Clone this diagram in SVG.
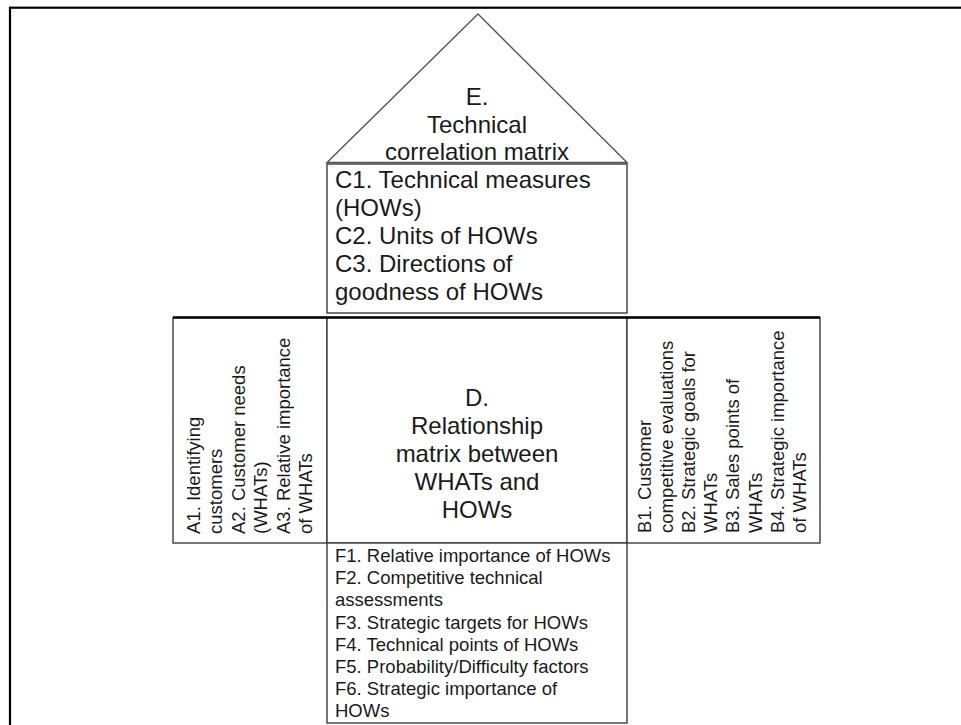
<svg xmlns="http://www.w3.org/2000/svg" width="961" height="725" viewBox="0 0 961 725">
  <style>
    .frame { fill: none; stroke: #000; stroke-width: 2.2; }
    .box { fill: #fff; stroke: #3c3c3c; stroke-width: 1.4; }
    .roof { fill: #fff; stroke: #555; stroke-width: 1.4; }
    .bar { stroke: #000; stroke-width: 2.6; }
    .big { font-family: "Liberation Sans", Arial, sans-serif; font-size: 24px; fill: #1a1a1a; }
    .small { font-family: "Liberation Sans", Arial, sans-serif; font-size: 18.5px; fill: #1a1a1a; }
    .mid { text-anchor: middle; }
  </style>

  <rect width="961" height="725" fill="#fff"/>

  <!-- page frame -->
  <g id="frame">
    <rect class="frame" x="10" y="7.7" width="1000" height="800"/>
  </g>

  <!-- E: roof -->
  <g id="node-E">
    <polygon class="roof" points="327,162.5 478,14 627,162.5"/>
    <text class="big mid" x="477" y="105">E.</text>
    <text class="big mid" x="477" y="133">Technical</text>
    <text class="big mid" x="477" y="160">correlation matrix</text>
  </g>

  <!-- C: technical measures -->
  <g id="node-C">
    <rect class="box" x="327" y="164" width="300" height="149"/>
    <text class="big" x="335" y="188">C1. Technical measures</text>
    <text class="big" x="335" y="216">(HOWs)</text>
    <text class="big" x="335" y="244">C2. Units of HOWs</text>
    <text class="big" x="335" y="272">C3. Directions of</text>
    <text class="big" x="335" y="300">goodness of HOWs</text>
  </g>

  <!-- A: customer side -->
  <g id="node-A">
    <rect class="box" x="173" y="317.5" width="154" height="225.5"/>
    <text class="small" transform="translate(200,534) rotate(-90)">A1. Identifying</text>
    <text class="small" transform="translate(222.4,534) rotate(-90)">customers</text>
    <text class="small" transform="translate(244.8,534) rotate(-90)">A2. Customer needs</text>
    <text class="small" transform="translate(267.2,534) rotate(-90)">(WHATs)</text>
    <text class="small" transform="translate(289.6,534) rotate(-90)">A3. Relative importance</text>
    <text class="small" transform="translate(312,534) rotate(-90)">of WHATs</text>
  </g>

  <!-- D: relationship matrix -->
  <g id="node-D">
    <rect class="box" x="327" y="317.5" width="300" height="225.5"/>
    <text class="big mid" x="477" y="406">D.</text>
    <text class="big mid" x="477" y="434">Relationship</text>
    <text class="big mid" x="477" y="462">matrix between</text>
    <text class="big mid" x="477" y="490">WHATs and</text>
    <text class="big mid" x="477" y="518">HOWs</text>
  </g>

  <!-- B: competitive side -->
  <g id="node-B">
    <rect class="box" x="627" y="317.5" width="193" height="225.5"/>
    <text class="small" transform="translate(650.5,533) rotate(-90)">B1. Customer</text>
    <text class="small" transform="translate(672.7,533) rotate(-90)">competitive evaluations</text>
    <text class="small" transform="translate(694.9,533) rotate(-90)">B2. Strategic goals for</text>
    <text class="small" transform="translate(717.1,533) rotate(-90)">WHATs</text>
    <text class="small" transform="translate(739.3,533) rotate(-90)">B3. Sales points of</text>
    <text class="small" transform="translate(761.5,533) rotate(-90)">WHATs</text>
    <text class="small" transform="translate(783.7,533) rotate(-90)">B4. Strategic importance</text>
    <text class="small" transform="translate(805.9,533) rotate(-90)">of WHATs</text>
  </g>

  <!-- F: technical assessments -->
  <g id="node-F">
    <rect class="box" x="327" y="543" width="300" height="180"/>
    <text class="small" x="335" y="562">F1. Relative importance of HOWs</text>
    <text class="small" x="335" y="584">F2. Competitive technical</text>
    <text class="small" x="335" y="606">assessments</text>
    <text class="small" x="335" y="628.5">F3. Strategic targets for HOWs</text>
    <text class="small" x="335" y="650.6">F4. Technical points  of HOWs</text>
    <text class="small" x="335" y="672.8">F5. Probability/Difficulty factors</text>
    <text class="small" x="335" y="695">F6. Strategic importance of</text>
    <text class="small" x="335" y="717">HOWs</text>
  </g>

  <!-- heavy rule along the top of the middle row -->
  <g id="connectors">
    <line class="bar" x1="173" y1="317.5" x2="820" y2="317.5"/>
  </g>
</svg>
